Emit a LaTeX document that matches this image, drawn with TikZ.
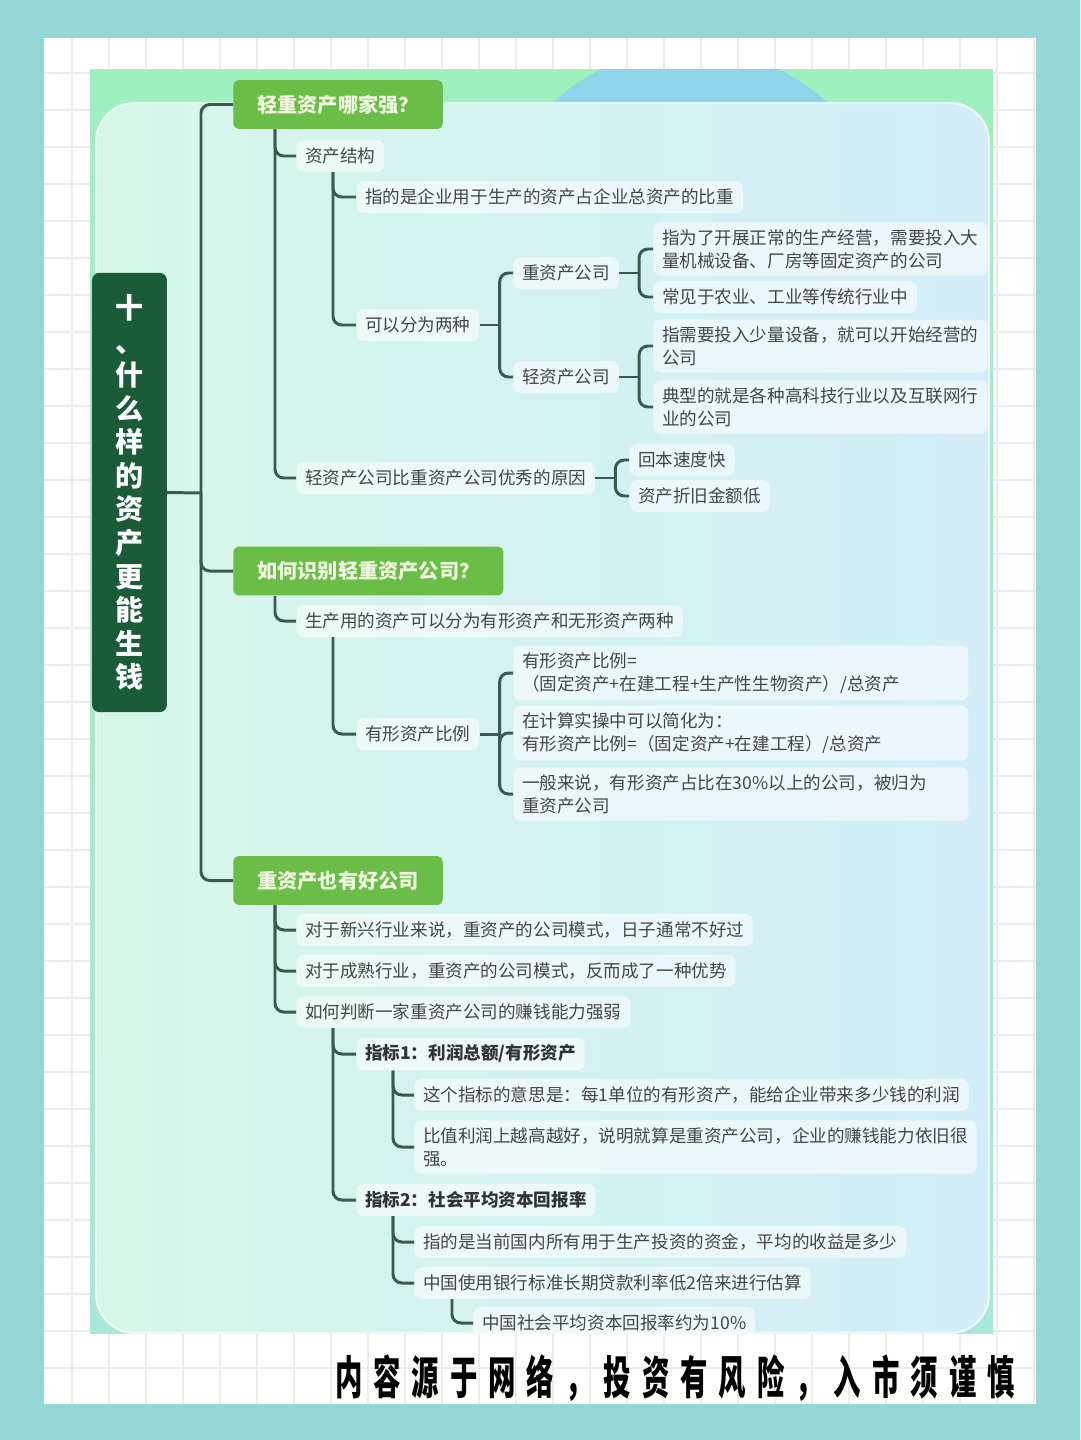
\documentclass[tikz,border=0pt]{standalone}
\usepackage{fontspec}
\setmainfont{Noto Sans CJK SC}
\newfontfamily\discfont{Noto Sans CJK SC}[FakeStretch=0.6, LetterSpace=24]
\usetikzlibrary{positioning,calc}

\definecolor{tealbg}{HTML}{93D8D5}
\definecolor{gridgray}{HTML}{ECECEC}
\definecolor{shotgreen}{HTML}{9EF0BD}
\definecolor{shotteal}{HTML}{A6E8DA}
\definecolor{circleblue}{HTML}{8FD5EA}
\definecolor{cardmint}{HTML}{D6F6E9}
\definecolor{cardblue}{HTML}{D3EEF8}
\definecolor{rootgreen}{HTML}{1A5C38}
\definecolor{topicgreen}{HTML}{6ABD47}
\definecolor{topictext}{HTML}{F1F8E2}
\definecolor{linkgreen}{HTML}{3B5A4F}
\definecolor{leaftext}{HTML}{454545}
\definecolor{keytext}{HTML}{333333}

\begin{document}
\begin{tikzpicture}[
		x=0.02cm, y=-0.02cm,
		gridline/.style={draw=gridgray, line width=1.1pt},
		conn/.style={draw=linkgreen, line width=1.7pt, rounded corners=5pt},
		root/.style={
			fill=rootgreen,
			rounded corners=4pt,
			text=white,
			align=center,
			minimum width=42.5pt,
			minimum height=250pt,
			inner sep=0pt,
			font=\fontsize{16}{19.1}\selectfont\bfseries
		},
		topic/.style={
			fill=topicgreen,
			rounded corners=3pt,
			text=topictext,
			anchor=west,
			minimum height=27.8pt,
			inner xsep=13.6pt,
			font=\fontsize{11.5}{14}\selectfont\bfseries
		},
		leaf/.style={
			fill=white,
			fill opacity=0.55,
			text opacity=1,
			text=leaftext,
			rounded corners=4pt,
			anchor=west,
			align=left,
			inner xsep=5pt,
			inner ysep=4pt,
			minimum height=18pt,
			font=\fontsize{10}{13}\selectfont
		},
		keyleaf/.style={leaf, text=keytext, font=\fontsize{10}{13}\selectfont\bfseries},
		disclaimer/.style={text=black, font=\discfont\fontsize{26}{30}\selectfont\bfseries}
		]
		
		% Page and grid
		\fill[tealbg] (0,0) rectangle (1080,1440);
		\fill[white] (44,38) rectangle (1036,1404);
		\foreach \gx in {72,109,...,1036} \draw[gridline] (\gx,38) -- (\gx,1404);
		\foreach \gy in {73,110,...,1404} \draw[gridline] (44,\gy) -- (1036,\gy);
		
		\begin{scope}
			\clip (90,69) rectangle (993,1333);
			% Screenshot background
			\shade[top color=shotgreen, bottom color=shotteal] (90,69) rectangle (993,1333);
			\fill[circleblue] (690,252) circle [radius=4.06cm];
			\shade[left color=cardmint, right color=cardblue, rounded corners=22pt,
			draw=white, draw opacity=0.7, line width=1.2pt] (96,103) rectangle (989,1333);
			
			% Root and topics
			\node[root] (root) at (129.5,492.5) {十\\、\\什\\么\\样\\的\\资\\产\\更\\能\\生\\钱};
			\node[topic] (heavy) at (233,104.5) {轻重资产哪家强？};
			\node[topic] (spot) at (233,571) {如何识别轻重资产公司？};
			\node[topic] (good) at (233,880.5) {重资产也有好公司};
			
			% Topic 1
			\node[leaf] (struct) at (296,156) {资产结构};
			\node[leaf] (define) at (356,197) {指的是企业用于生产的资产占企业总资产的比重};
			\node[leaf] (twokinds) at (356,325) {可以分为两种};
			\node[leaf] (heavyco) at (513,273) {重资产公司};
			\node[leaf] (lightco) at (513,377) {轻资产公司};
			\node[leaf, text width=180pt] (heavydef) at (653,249)
			{指为了开展正常的生产经营，需要投入大\\量机械设备、厂房等固定资产的公司};
			\node[leaf] (heavyind) at (653,297) {常见于农业、工业等传统行业中};
			\node[leaf, text width=180pt] (lightdef) at (653,346)
			{指需要投入少量设备，就可以开始经营的\\公司};
			\node[leaf, text width=180pt] (lightind) at (653,407)
			{典型的就是各种高科技行业以及互联网行\\业的公司};
			\node[leaf] (reason) at (296,478) {轻资产公司比重资产公司优秀的原因};
			\node[leaf] (payback) at (629,460) {回本速度快};
			\node[leaf] (deprec) at (629,496) {资产折旧金额低};
			
			% Topic 2
			\node[leaf] (prodasset) at (296,621) {生产用的资产可以分为有形资产和无形资产两种};
			\node[leaf] (tangible) at (356,734) {有形资产比例};
			\node[leaf, text width=249pt] (formula) at (513,673)
			{有形资产比例=\\（固定资产+在建工程+生产性生物资产）/总资产};
			\node[leaf, text width=249pt] (simple) at (513,733)
			{在计算实操中可以简化为：\\有形资产比例=（固定资产+在建工程）/总资产};
			\node[leaf, text width=249pt] (thirty) at (513,794)
			{一般来说，有形资产占比在30\%以上的公司，被归为\\重资产公司};
			
			% Topic 3
			\node[leaf] (newind) at (296,930) {对于新兴行业来说，重资产的公司模式，日子通常不好过};
			\node[leaf] (mature) at (296,971) {对于成熟行业，重资产的公司模式，反而成了一种优势};
			\node[leaf] (judge) at (296,1012) {如何判断一家重资产公司的赚钱能力强弱};
			\node[keyleaf] (kpione) at (356,1054) {指标1：利润总额/有形资产};
			\node[leaf] (kpimean) at (414,1095) {这个指标的意思是：每1单位的有形资产，能给企业带来多少钱的利润};
			\node[leaf] (kpihigh) at (414,1147)
			{比值利润上越高越好，说明就算是重资产公司，企业的赚钱能力依旧很\\强。};
			\node[keyleaf] (kpitwo) at (356,1200) {指标2：社会平均资本回报率};
			\node[leaf] (avgmean) at (414,1242) {指的是当前国内所有用于生产投资的资金，平均的收益是多少};
			\node[leaf] (loanrate) at (414,1283) {中国使用银行标准长期贷款利率低2倍来进行估算};
			\node[leaf] (tenpct) at (473,1323) {中国社会平均资本回报率约为10\%};
			
			% Connections
			\coordinate (trunk) at (201,493);
			\draw[conn] (root.east) -- (trunk);
			\foreach \t in {heavy,spot,good}
			\draw[conn] (trunk) |- (\t.west);
			
			\foreach \p/\c/\d in {heavy/struct/42, heavy/reason/42,
				struct/define/37, struct/twokinds/37,
				spot/prodasset/42, prodasset/tangible/37,
				good/newind/42, good/mature/42, good/judge/42,
				judge/kpione/37, judge/kpitwo/37,
				kpione/kpimean/37, kpione/kpihigh/37,
				kpitwo/avgmean/37, kpitwo/loanrate/37,
				loanrate/tenpct/38}
			\draw[conn] ($(\p.south west)+(\d,0)$) |- (\c.west);
			
			\foreach \p/\c in {twokinds/heavyco, twokinds/lightco,
				heavyco/heavydef, heavyco/heavyind,
				lightco/lightdef, lightco/lightind,
				reason/payback, reason/deprec,
				tangible/formula, tangible/simple, tangible/thirty}
			{
				\draw[conn] (\p.east) -- ++(20,0);
				\draw[conn] ($(\p.east)+(20,0)$) |- (\c.west);
			}
		\end{scope}
		
		% Footer
		\node[disclaimer] (note) at (675,1378) {内容源于网络，投资有风险，入市须谨慎};
		
	\end{tikzpicture}
\end{document}
